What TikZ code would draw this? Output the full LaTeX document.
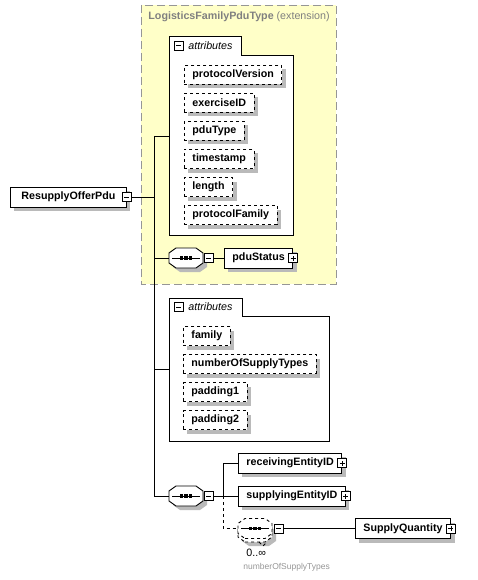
\documentclass[tikz,border=0pt]{standalone}
\usepackage{fontspec}
\setmainfont{Liberation Sans}
\newcommand{\diagfont}{\fontsize{10.7}{12}\selectfont}
\definecolor{typeyellow}{RGB}{255,255,200}
\definecolor{typeborder}{RGB}{150,150,150}
\colorlet{shadowgray}{black!27}
\definecolor{titlegray}{RGB}{128,128,128}
\definecolor{notegray}{RGB}{150,150,150}
\tikzstyle{element}=[draw, fill=white, minimum height=20pt, inner xsep=8pt, inner ysep=0pt, font=\diagfont\bfseries]
\tikzstyle{attribute}=[element, dashed, minimum height=19pt]
\tikzstyle{box shadow}=[fill=shadowgray, draw=none, xshift=4pt, yshift=-4pt]
\tikzstyle{group}=[draw, fill=white]
\tikzstyle{seqnode}=[minimum width=34pt, minimum height=20pt, inner sep=0pt]
\tikzstyle{expander}=[draw, solid, fill=white, minimum size=9pt, inner sep=0pt]
\tikzstyle{minus box}=[expander, path picture={
    \draw ([xshift=-2.5pt]path picture bounding box.center) -- ([xshift=2.5pt]path picture bounding box.center);}]
\tikzstyle{plus box}=[expander, path picture={
    \draw ([xshift=-2.5pt]path picture bounding box.center) -- ([xshift=2.5pt]path picture bounding box.center);
    \draw ([yshift=-2.5pt]path picture bounding box.center) -- ([yshift=2.5pt]path picture bounding box.center);}]
% a box with its shadow: [style] {name} {position} {text}
\newcommand{\shadowed}[4][element]{%
  \node[#1, box shadow] (#2_shadow) at #3 {\phantom{#4}};
  \node[#1] (#2) at #3 {#4};}
% octagon round a centre point
\newcommand{\octagon}[1]{#1 ++(-10pt,-10pt) -- ++(20pt,0pt) -- ++(7pt,5pt) -- ++(0pt,10pt) -- ++(-7pt,5pt)
    -- ++(-20pt,0pt) -- ++(-7pt,-5pt) -- ++(0pt,-10pt) -- cycle}
% the "sequence" mark: a line with three dots
\newcommand{\seqmark}[1]{%
  \draw[solid] (#1.center) +(-14pt,0pt) -- +(14pt,0pt);
  \foreach \d in {-4.5,0,4.5}
    \fill ([xshift=\d pt]#1.center) +(-1.7pt,-1.7pt) rectangle +(1.7pt,1.7pt);}

\begin{document}
\begin{tikzpicture}[x=1pt, y=-1pt, line width=0.9pt, font=\diagfont]
  \useasboundingbox (0,0) rectangle (478,580);

  % base type
  \draw[fill=typeyellow, draw=typeborder, dash pattern=on 8pt off 4pt] (141,5) rectangle (336,284);
  \node[anchor=west, text=titlegray, inner sep=0pt] (base_title) at (148,17) {\textbf{LogisticsFamilyPduType} (extension)};

  % inherited attributes
  \draw[group] (169,36) -- (241,36) -- (241,55) -- (293,55) -- (293,235) -- (169,235) -- cycle;
  \node[minus box] (attrs1_x) at (178.5,45.5) {};
  \node[anchor=west, inner sep=0pt, font=\diagfont\itshape] (attrs1_label) at (188,45.5) {attributes};
  \coordinate (attrs1) at (169,136);
  \shadowed[attribute, anchor=west]{protocol_version}{(184,75)}{protocolVersion}
  \shadowed[attribute, anchor=west]{exercise_id}{(184,103)}{exerciseID}
  \shadowed[attribute, anchor=west]{pdu_type}{(184,131)}{pduType}
  \shadowed[attribute, anchor=west]{timestamp}{(184,159)}{timestamp}
  \shadowed[attribute, anchor=west]{length}{(184,187)}{length}
  \shadowed[attribute, anchor=west]{protocol_family}{(184,215)}{protocolFamily}

  \node[seqnode] (seq1) at (186,258) {};
  \fill[shadowgray] \octagon{([xshift=4pt, yshift=-4pt]seq1.center)};
  \filldraw[fill=white] \octagon{(seq1)};
  \seqmark{seq1}
  \node[minus box] (seq1_x) at (208.5,258) {};
  \shadowed[element, anchor=west]{pdu_status}{(224,258)}{pduStatus}
  \node[plus box] (pdu_status_x) at (pdu_status.east) {};

  % own attributes
  \draw[group] (169,298) -- (242,298) -- (242,316) -- (329,316) -- (329,441) -- (169,441) -- cycle;
  \node[minus box] (attrs2_x) at (178.5,307) {};
  \node[anchor=west, inner sep=0pt, font=\diagfont\itshape] (attrs2_label) at (188,307) {attributes};
  \coordinate (attrs2) at (169,369);
  \shadowed[attribute, anchor=west]{family}{(183,336)}{family}
  \shadowed[attribute, anchor=west]{number_types}{(183,364)}{numberOfSupplyTypes}
  \shadowed[attribute, anchor=west]{padding1}{(183,392)}{padding1}
  \shadowed[attribute, anchor=west]{padding2}{(183,420)}{padding2}

  % root element
  \shadowed[element, minimum width=116pt, anchor=west]{root}{(10,197)}{ResupplyOfferPdu}
  \node[minus box] (root_x) at (root.east) {};

  % content
  \node[seqnode] (seq2) at (186,496) {};
  \fill[shadowgray] \octagon{([xshift=4pt, yshift=-4pt]seq2.center)};
  \filldraw[fill=white] \octagon{(seq2)};
  \seqmark{seq2}
  \node[minus box] (seq2_x) at (208.5,496) {};
  \shadowed[element, anchor=west]{receiving_id}{(238,463)}{receivingEntityID}
  \node[plus box] (receiving_id_x) at (receiving_id.east) {};
  \shadowed[element, anchor=west]{supplying_id}{(238,496)}{supplyingEntityID}
  \node[plus box] (supplying_id_x) at (supplying_id.east) {};

  \node[seqnode] (seq3_back) at (255,532) {};
  \node[seqnode] (seq3) at (255,528.5) {};
  \fill[shadowgray] \octagon{([xshift=4pt, yshift=-4pt]seq3_back.center)};
  \filldraw[fill=white, dashed] \octagon{(seq3_back)};
  \draw[dashed] (259,542) -- (263,546) -- (267,542);
  \filldraw[fill=white, dashed] \octagon{(seq3)};
  \seqmark{seq3}
  \node[minus box] (seq3_x) at (278.5,528.5) {};
  \shadowed[element, anchor=west]{supply_qty}{(355,528.5)}{SupplyQuantity}
  \node[plus box] (supply_qty_x) at (supply_qty.east) {};
  \node[anchor=west, inner sep=0pt] (seq3_occurs) at (246,553) {0..∞};
  \node[anchor=west, inner sep=0pt, text=notegray, font=\fontsize{8.5}{10}\selectfont] (seq3_note) at (243,567) {numberOfSupplyTypes};

  % connectors
  \coordinate (spine_top) at (154,136);
  \coordinate (spine_bot) at (154,496);
  \coordinate (fork) at (223,496);
  \draw (spine_top) -- (spine_bot);
  \draw (root_x) -- (root_x -| spine_top);
  \draw (spine_top) -- (attrs1);
  \draw (seq1 -| spine_top) -- (seq1);
  \draw (spine_top |- attrs2) -- (attrs2);
  \draw (spine_bot) -- (seq2);
  \draw (seq1_x) -- (pdu_status);
  \draw (seq2_x) -- (fork);
  \draw (fork |- receiving_id) -- (fork);
  \draw (fork |- receiving_id) -- (receiving_id);
  \draw (fork) -- (supplying_id);
  \draw[dashed] (fork) |- (seq3_x -| seq3.west);
  \draw (seq3_x) -- (supply_qty);
\end{tikzpicture}
\end{document}
